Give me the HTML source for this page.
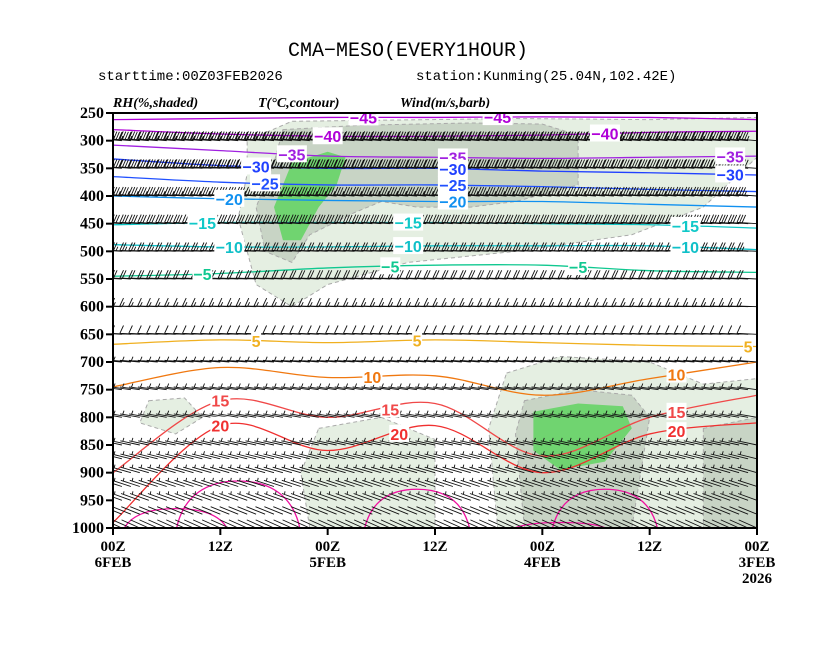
<!DOCTYPE html>
<html><head><meta charset="utf-8"><style>
html,body{margin:0;padding:0;background:#fff;width:834px;height:645px;overflow:hidden}
svg{display:block}
</style></head><body>
<svg id="chart" width="834" height="645" viewBox="0 0 834 645" xmlns="http://www.w3.org/2000/svg">
<text x="408" y="56" text-anchor="middle" font-family="Liberation Mono, monospace" font-size="20" fill="#000">CMA−MESO(EVERY1HOUR)</text>
<text x="98" y="80" font-family="Liberation Mono, monospace" font-size="14" fill="#000">starttime:00Z03FEB2026</text>
<text x="416" y="80" font-family="Liberation Mono, monospace" font-size="14" fill="#000">station:Kunming(25.04N,102.42E)</text>
<text x="113" y="107" font-family="Liberation Serif, serif" font-style="italic" font-weight="bold" font-size="14">RH(%,shaded)</text>
<text x="258" y="107" font-family="Liberation Serif, serif" font-style="italic" font-weight="bold" font-size="14">T(°C,contour)</text>
<text x="400" y="107" font-family="Liberation Serif, serif" font-style="italic" font-weight="bold" font-size="14">Wind(m/s,barb)</text>
<defs><clipPath id="pc"><rect x="113" y="113" width="644" height="415"/></clipPath></defs>
<g id="plot" clip-path="url(#pc)"></g>
<g id="labels"></g>
<rect x="113" y="113" width="644" height="415" fill="none" stroke="#000" stroke-width="2"/>
<g id="axes"></g>
</svg>
<script>
// ---------- data ----------
const pLevels = [250,300,350,400,450,500,550,600,650,700,750,800,850,900,950,1000];
const xTickHours = [0,12,24,36,48,60,72];
const xTickTop = ["00Z","12Z","00Z","12Z","00Z","12Z","00Z"];
const xTickBot = ["6FEB","","5FEB","","4FEB","","3FEB"];
const sampleHours = [0,12,24,36,48,60,72];
const isoValues = [-45,-40,-35,-30,-25,-20,-15,-10,-5,5,10,15,20];
const isoM45 = [262,260,258,258,257,258,262];
const isoM40 = [280,288,292,292,290,285,283];
const isoM35 = [308,318,328,330,332,330,328];
const isoM30 = [333,345,350,350,355,358,362];
const isoM25 = [365,375,380,380,383,388,392];
const isoM20 = [400,405,408,410,410,415,420];
const isoM15 = [452,448,448,448,450,452,458];
const isoM10 = [488,492,492,490,490,490,497];
const isoM5  = [545,540,530,525,525,535,538];
const iso5   = [668,660,665,660,665,670,672];
const iso10  = [745,710,728,725,760,730,700];
const iso15  = [900,770,800,775,870,800,760];
const iso20  = [990,815,860,815,900,830,810];
const isoColors = ["#b000d8","#b000d8","#a020e0","#2040ff","#2050ff","#1090f0","#10c8c8","#10c0c8","#10c890","#f0b020","#f07810","#f04848","#f03030"];
const isoLabelHours = [[28,43],[24,55],[20,38,69],[16,38,69],[17,38],[13,38],[10,33,64],[13,33,64],[10,31,52],[16,34,71],[29,63],[12,31,63],[12,32,63]];
const archCenter = [14,34,55,7,50];
const archHalf = [7,6,6,6,6];
const archTop = [915,930,930,965,990];
const windLevels = [250,300,350,400,450,500,550,600,650,700,750,800,850,875,900,925,950,975,1000];
const windSpeed = [40,45,40,35,30,25,20,15,10,8,8,6,6,6,5,5,5,4,4];
const windTilt = [3,5,4,4,4,3,3,2,3,5,8,10,12,14,16,18,20,22,24];
const rhLight = [
 [[15,300],[20,265],[45,260],[60,262],[72,258],[72,330],[66,420],[58,470],[45,500],[33,520],[24,560],[20,600],[16,560],[14,440],[15,360]],
 [[44,720],[50,690],[60,700],[66,740],[72,730],[72,1000],[43,1000],[42,820]],
 [[23,820],[30,800],[36,840],[36,1000],[22,1000],[21,900]],
 [[4,770],[8,765],[10,800],[7,830],[3,810]]];
const rhMid = [
 [[19,280],[28,272],[40,268],[48,270],[52,290],[52,380],[45,410],[40,420],[34,420],[30,410],[27,430],[22,470],[20,520],[17,500],[16,420],[18,340]],
 [[46,770],[52,750],[58,760],[60,800],[58,1000],[46,1000],[45,830]],
 [[66,820],[72,800],[72,1000],[66,1000]]];
const rhDark = [
 [[20,340],[24,320],[26,330],[25,380],[23,420],[21,480],[19,480],[18,420]],
 [[47,790],[52,775],[57,780],[58,820],[55,880],[50,895],[47,860]]];
// ---------- axes functions ----------
const X0=113,X1=757,Y0=113,Y1=528;
const xs = h => X0 + h/72*(X1-X0);
const ys = p => Y0 + (p-250)/750*(Y1-Y0);
const NS="http://www.w3.org/2000/svg";
function mk(tag, parent){const e=document.createElementNS(NS,tag);parent.appendChild(e);return e;}
const plot=document.getElementById('plot'), labels=document.getElementById('labels'), axes=document.getElementById('axes');
function smooth(pts){let d=`M${pts[0][0]},${pts[0][1]}`;for(let i=0;i<pts.length-1;i++){const p0=pts[Math.max(0,i-1)],p1=pts[i],p2=pts[i+1],p3=pts[Math.min(pts.length-1,i+2)];
 d+=` C${p1[0]+(p2[0]-p0[0])/6},${p1[1]+(p2[1]-p0[1])/6} ${p2[0]-(p3[0]-p1[0])/6},${p2[1]-(p3[1]-p1[1])/6} ${p2[0]},${p2[1]}`;}return d;}
function closedPath(poly){const pts=poly.map(q=>[xs(q[0]),ys(q[1])]);return 'M'+pts.map(q=>q.join(',')).join(' L')+' Z';}
[[rhLight,'#e5efe2'],[rhMid,'#c8d4c5'],[rhDark,'#70d470']].forEach(([set,col],k)=>{
 set.forEach(poly=>{const e=mk('path',plot);
  
  
  e.setAttribute('d',closedPath(poly));e.setAttribute('fill',col);
  e.setAttribute('stroke',k<2?'#aaa':'none');e.setAttribute('stroke-dasharray','4,3');e.setAttribute('stroke-width','1');});});
const isoArrays=[isoM45,isoM40,isoM35,isoM30,isoM25,isoM20,isoM15,isoM10,isoM5,iso5,iso10,iso15,iso20];
function interpP(arr,h){const i=Math.min(5,Math.floor(h/12));const f=(h-i*12)/12;return arr[i]+(arr[i+1]-arr[i])*f;}
isoArrays.forEach((arr,k)=>{
 const e=mk('path',plot);
 
 
 e.setAttribute('d',smooth(arr.map((p,i)=>[xs(sampleHours[i]),ys(p)])));
 e.setAttribute('fill','none');e.setAttribute('stroke',isoColors[k]);e.setAttribute('stroke-width','1.3');});
archCenter.forEach((c,i)=>{
 const e=mk('path',plot);
 
 
 const l=xs(c-archHalf[i]),r=xs(c+archHalf[i]),t=ys(archTop[i]),b=ys(1010);
 e.setAttribute('d',`M${l},${b} C${l+8},${t} ${xs(c)-10},${t} ${xs(c)},${t} C${xs(c)+10},${t} ${r-8},${t} ${r},${b}`);
 e.setAttribute('fill','none');e.setAttribute('stroke','#f010a0');e.setAttribute('stroke-width','1.3');});
// Wind barbs: staff from station point toward upper-left, feathers angled
windLevels.forEach((p,k)=>{
 const y=ys(p),sp=windSpeed[k],tilt=windTilt[k]*Math.PI/180;
 const g=mk('g',plot);
 
 
 let d='';
 const dx=-Math.cos(tilt),dy=-Math.sin(tilt),L=20,FL=8;
 const fx=dy*FL-dx*4, fy=-dx*FL*-1*-1-dy*4; // perpendicular upward, leaning toward head
 const fy2=-Math.abs(dx)*FL-dy*4;
 for(let h=0;h<=72;h++){
  const x=xs(h);
  const tx=x+dx*L,ty=y+dy*L;d+=`M${x.toFixed(1)},${y.toFixed(1)} L${tx.toFixed(1)},${ty.toFixed(1)}`;
  let s=sp,pos=0;
  while(s>=10){const bx=tx-dx*pos,by=ty-dy*pos;d+=` M${bx.toFixed(1)},${by.toFixed(1)} l${fx.toFixed(1)},${fy2.toFixed(1)}`;pos+=2.6;s-=10;}
  if(s>=5){if(pos===0)pos=2.6;const bx=tx-dx*pos,by=ty-dy*pos;d+=` M${bx.toFixed(1)},${by.toFixed(1)} l${(fx/2).toFixed(1)},${(fy2/2).toFixed(1)}`;}
 }
 const e=mk('path',g);e.setAttribute('d',d);e.setAttribute('fill','none');e.setAttribute('stroke','#111');e.setAttribute('stroke-width','0.9');
});
isoArrays.forEach((arr,k)=>{
 isoLabelHours[k].forEach(h=>{
  const x=xs(h),y=ys(interpP(arr,h));const txt=String(isoValues[k]).replace('-','−');
  const r=mk('rect',labels);
  
  
  r.setAttribute('x',x-txt.length*5);r.setAttribute('y',y-9);r.setAttribute('width',txt.length*10);r.setAttribute('height',17);r.setAttribute('fill','#fff');
  const t=mk('text',labels);
  
  
  t.setAttribute('x',x);t.setAttribute('y',y+6);t.setAttribute('text-anchor','middle');
  t.setAttribute('font-family','Liberation Sans, sans-serif');t.setAttribute('font-weight','bold');t.setAttribute('font-size','16');
  t.setAttribute('fill',isoColors[k]);t.textContent=txt;});});
pLevels.forEach(p=>{
 const y=ys(p);const tk=mk('line',axes);
 
 
 tk.setAttribute('x1',106);tk.setAttribute('x2',113);tk.setAttribute('y1',y);tk.setAttribute('y2',y);tk.setAttribute('stroke','#000');tk.setAttribute('stroke-width','2');
 const t=mk('text',axes);
 
 
 t.setAttribute('x',104);t.setAttribute('y',y+5);t.setAttribute('text-anchor','end');
 t.setAttribute('font-family','Liberation Serif, serif');t.setAttribute('font-weight','bold');t.setAttribute('font-size','16');t.textContent=p;});
xTickHours.forEach((h,i)=>{
 const x=xs(h);const tk=mk('line',axes);
 
 
 tk.setAttribute('x1',x);tk.setAttribute('x2',x);tk.setAttribute('y1',528);tk.setAttribute('y2',535);tk.setAttribute('stroke','#000');tk.setAttribute('stroke-width','2');
 [[xTickTop[i],551],[xTickBot[i],567]].concat(i===6?[["2026",583]]:[]).forEach(([s,y])=>{
  if(!s)return;const t=mk('text',axes);
  
  
  t.setAttribute('x',x);t.setAttribute('y',y);t.setAttribute('text-anchor','middle');
  t.setAttribute('font-family','Liberation Serif, serif');t.setAttribute('font-weight','bold');t.setAttribute('font-size','15');t.textContent=s;});});
</script>
</body></html>
